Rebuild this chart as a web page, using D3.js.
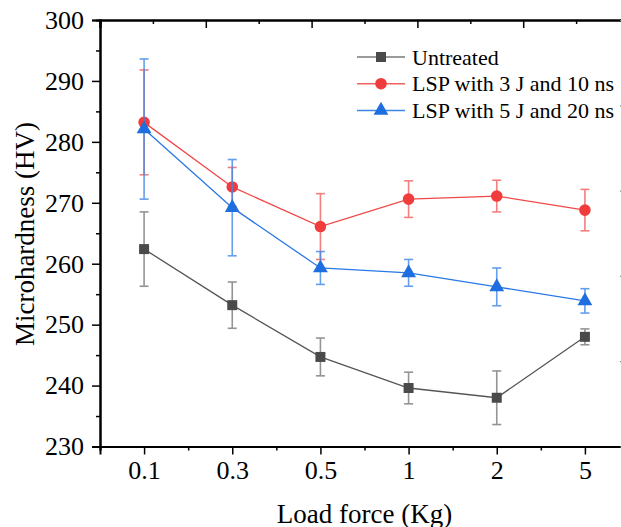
<!DOCTYPE html>
<html>
<head>
<meta charset="utf-8">
<script src="https://cdn.jsdelivr.net/npm/d3@7"></script>
<style>
  body { margin: 0; background: #fff; }
  svg { display: block; }
</style>
</head>
<body>
<div id="chart"></div>
<script>
// Chart data
var loads = ["0.1", "0.3", "0.5", "1", "2", "5"];
var yTicks = [230, 240, 250, 260, 270, 280, 290, 300];

var untreated = [262.4, 253.2, 244.7, 239.6, 238.0, 248.0];
var untreatedErr = [6.1, 3.8, 3.1, 2.6, 4.4, 1.3];

var lsp3 = [283.2, 272.6, 266.1, 270.6, 271.1, 268.8];
var lsp3Err = [8.6, 3.2, 5.4, 3.0, 2.6, 3.4];

var lsp5 = [282.1, 269.2, 259.3, 258.5, 256.2, 253.9];
var lsp5Err = [11.5, 7.9, 2.7, 2.2, 3.1, 2.0];

var seriesNames = ["Untreated", "LSP with 3 J and 10 ns", "LSP with 5 J and 20 ns"];

var serif = "'Liberation Serif', 'Times New Roman', Tinos, 'DejaVu Serif', serif";

var svgWidth = 621;
var svgHeight = 527;
var margin = { top: 20, left: 100 };
var width = 529;
var height = 426.5;

var svg = d3.select("#chart")
    .append("svg")
    .attr("width", svgWidth)
    .attr("height", svgHeight);

var chartGroup = svg.append("g")
    .attr("transform", `translate(${margin.left}, ${margin.top})`);

// Scales
var xScale = d3.scalePoint()
    .domain(loads)
    .range([0, width])
    .padding(0.5);
var yScale = d3.scaleLinear()
    .domain([230, 300])
    .range([height, 0]);
// minor positions between categories
var xMinor = d3.scaleLinear().domain([0, loads.length]).range([0, width]);

// Axes
var bottomAxis = d3.axisBottom(xScale).tickSize(8).tickPadding(6);
var leftAxis = d3.axisLeft(yScale).tickValues(yTicks).tickSize(8).tickPadding(8);

var yMinor = d3.axisLeft(yScale).tickValues(d3.range(235, 300, 10)).tickSize(4).tickFormat("");
var xMinorAxis = d3.axisBottom(xMinor).tickValues(d3.range(0, loads.length + 1)).tickSize(4).tickFormat("");

// top and right frame axes (unlinked, 5 divisions, inward ticks)
var topScale = d3.scaleLinear().domain([0, 5]).range([0, width]);
var rightScale = d3.scaleLinear().domain([0, 5]).range([height, 0]);
var topAxis = d3.axisTop(topScale).tickValues(d3.range(0, 6)).tickSize(-8).tickFormat("");
var topMinor = d3.axisTop(topScale).tickValues(d3.range(0.5, 5, 1)).tickSize(-4).tickFormat("");
var rightAxis = d3.axisRight(rightScale).tickValues(d3.range(0, 6)).tickSize(-9).tickFormat("");

function styleAxis(g) {
    g.attr("font-family", null);
    g.select(".domain").attr("stroke", "#000").attr("stroke-width", 2);
    g.selectAll(".tick line").attr("stroke", "#000").attr("stroke-width", 1.5);
    g.selectAll(".tick text")
        .style("font-family", serif)
        .style("font-size", "26px")
        .attr("fill", "#000");
}

chartGroup.append("g").attr("transform", `translate(0, ${height})`).call(xMinorAxis).call(styleAxis);
chartGroup.append("g").attr("transform", `translate(0, ${height})`).call(bottomAxis).call(styleAxis);
chartGroup.append("g").call(yMinor).call(styleAxis);
chartGroup.append("g").call(leftAxis).call(styleAxis);
chartGroup.append("g").call(topMinor).call(styleAxis);
chartGroup.append("g").call(topAxis).call(styleAxis);
var rightG = chartGroup.append("g").attr("transform", `translate(${width}, 0)`).call(rightAxis).call(styleAxis);
rightG.selectAll(".tick line").attr("stroke", "#888").attr("stroke-width", 1.2);

// Axis labels
chartGroup.append("text")
    .attr("transform", "rotate(-90)")
    .attr("x", -214)
    .attr("y", -66)
    .attr("text-anchor", "middle")
    .style("font-family", serif)
    .style("font-size", "27px")
    .text("Microhardness (HV)");

chartGroup.append("text")
    .attr("x", width / 2)
    .attr("y", height + 76)
    .attr("text-anchor", "middle")
    .style("font-family", serif)
    .style("font-size", "27px")
    .text("Load force (Kg)");

// Series
var series = [
    { name: seriesNames[0], values: untreated, err: untreatedErr, line: "#555555", fill: "#4a4a4a", errColor: "#7a7a7a", shape: "square" },
    { name: seriesNames[1], values: lsp3, err: lsp3Err, line: "#f04848", fill: "#f03c3c", errColor: "#f26060", shape: "circle" },
    { name: seriesNames[2], values: lsp5, err: lsp5Err, line: "#2a78e4", fill: "#1f6ee0", errColor: "#3f86ea", shape: "triangle" }
];

var lineGen = d3.line()
    .x((d, i) => xScale(loads[i]))
    .y(d => yScale(d));

function symbolPath(shape) {
    if (shape === "square") return d3.symbol().type(d3.symbolSquare).size(100)();
    if (shape === "circle") return d3.symbol().type(d3.symbolCircle).size(105)();
    return d3.symbol().type(d3.symbolTriangle).size(95)();
}

series.forEach((s) => {
    var g = chartGroup.append("g");

    // error bars
    var eb = g.selectAll(".err")
        .data(s.values)
        .enter()
        .append("g")
        .attr("stroke", s.errColor)
        .attr("stroke-width", 1.6)
        .attr("opacity", 0.8);
    eb.append("line")
        .attr("x1", (d, i) => xScale(loads[i]))
        .attr("x2", (d, i) => xScale(loads[i]))
        .attr("y1", (d, i) => yScale(d + s.err[i]))
        .attr("y2", (d, i) => yScale(d - s.err[i]));
    eb.append("line")
        .attr("x1", (d, i) => xScale(loads[i]) - 4.5)
        .attr("x2", (d, i) => xScale(loads[i]) + 4.5)
        .attr("y1", (d, i) => yScale(d + s.err[i]))
        .attr("y2", (d, i) => yScale(d + s.err[i]));
    eb.append("line")
        .attr("x1", (d, i) => xScale(loads[i]) - 4.5)
        .attr("x2", (d, i) => xScale(loads[i]) + 4.5)
        .attr("y1", (d, i) => yScale(d - s.err[i]))
        .attr("y2", (d, i) => yScale(d - s.err[i]));

    g.append("path")
        .datum(s.values)
        .attr("fill", "none")
        .attr("stroke", s.line)
        .attr("stroke-width", 1.3)
        .attr("d", lineGen);

    g.selectAll(".mark")
        .data(s.values)
        .enter()
        .append("path")
        .attr("transform", (d, i) => `translate(${xScale(loads[i])}, ${yScale(d)})`)
        .attr("d", symbolPath(s.shape))
        .attr("fill", s.fill);
});

// Legend
var legend = svg.append("g").attr("transform", "translate(357, 57)");
series.forEach((s, i) => {
    var row = legend.append("g").attr("transform", `translate(0, ${i * 26.7})`);
    row.append("line")
        .attr("x1", 0).attr("x2", 48)
        .attr("stroke", s.errColor)
        .attr("stroke-width", 1.5);
    row.append("path")
        .attr("transform", "translate(24, 0)")
        .attr("d", symbolPath(s.shape))
        .attr("fill", s.fill);
    row.append("text")
        .attr("x", 55)
        .attr("y", 7.5)
        .style("font-family", serif)
        .style("font-size", "22px")
        .text(s.name);
});
</script>
</body>
</html>
